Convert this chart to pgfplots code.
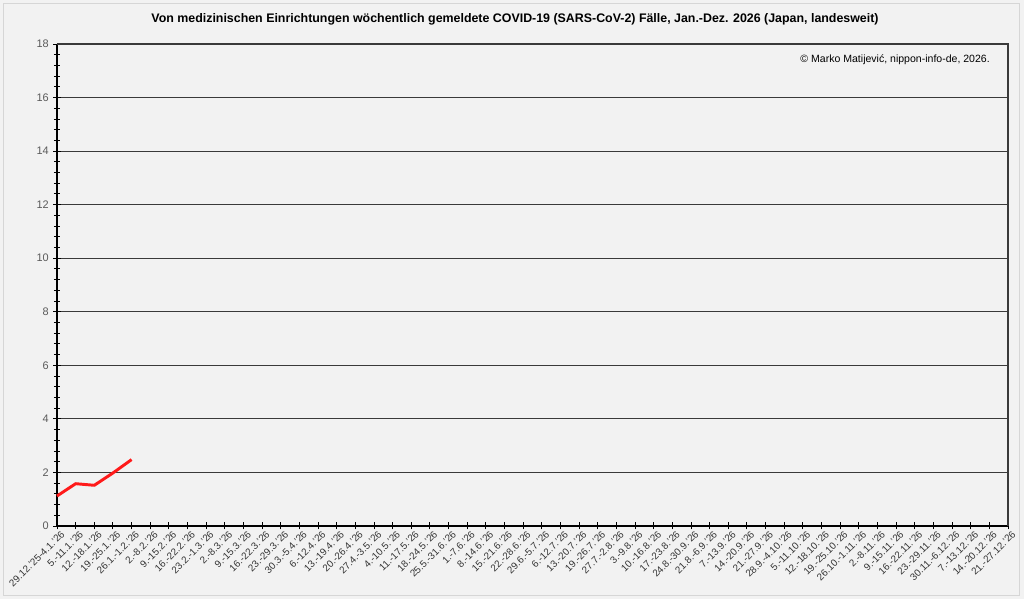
\documentclass[border=0pt]{standalone}
\usepackage{pgfplots}
\pgfplotsset{compat=1.18}
\usepackage{fontspec}
\setmainfont{Liberation Sans}

\definecolor{pagebg}{HTML}{F2F2F2}
\definecolor{framegray}{HTML}{D6D6D6}
\definecolor{gridgray}{HTML}{3A3A3A}
\definecolor{ticktext}{HTML}{5A5A5A}
\definecolor{covidred}{HTML}{FF1A1A}

% 1 px of the reference = 0.75pt
\newcommand{\px}[1]{#1*0.75pt}

\begin{document}
\begin{tikzpicture}
\path[use as bounding box, fill=pagebg] (0,0) rectangle (\px{1024},\px{599});
\draw[framegray, line width=0.6pt] (\px{3},\px{4}) rectangle (\px{1019},\px{596});

\node[font=\bfseries\fontsize{9.3}{11}\selectfont] at (\px{515},\px{580}) {Von medizinischen Einrichtungen wöchentlich gemeldete COVID-19 (SARS-CoV-2) Fälle, Jan.-Dez. 2026 (Japan, landesweit)};

\begin{axis}[
    at={(\px{57},\px{73})}, anchor=south west,
    scale only axis,
    width=\px{951}, height=\px{482},
    xmin=0, xmax=51,
    ymin=0, ymax=18,
    ytick={0,2,...,18},
    minor y tick num=4,
    xtick={0,...,51},
    xticklabels={29.12.'25-4.1.'26, 5.-11.1.'26, 12.-18.1.'26, 19.-25.1.'26, 26.1.-1.2.'26, 2.-8.2.'26, 9.-15.2.'26, 16.-22.2.'26, 23.2.-1.3.'26, 2.-8.3.'26, 9.-15.3.'26, 16.-22.3.'26, 23.-29.3.'26, 30.3.-5.4.'26, 6.-12.4.'26, 13.-19.4.'26, 20.-26.4.'26, 27.4.-3.5.'26, 4.-10.5.'26, 11.-17.5.'26, 18.-24.5.'26, 25.5.-31.6.'26, 1.-7.6.'26, 8.-14.6.'26, 15.-21.6.'26, 22.-28.6.'26, 29.6.-5.7.'26, 6.-12.7.'26, 13.-20.7.'26, 19.-26.7.'26, 27.7.-2.8.'26, 3.-9.8.'26, 10.-16.8.'26, 17.-23.8.'26, 24.8.-30.9.'26, 21.8.-6.9.'26, 7.-13.9.'26, 14.-20.9.'26, 21.-27.9.'26, 28.9.-4.10.'26, 5.-11.10.'26, 12.-18.10.'26, 19.-25.10.'26, 26.10.-1.11.'26, 2.-8.11.'26, 9.-15.11.'26, 16.-22.11.'26, 23.-29.11.'26, 30.11.-6.12.'26, 7.-13.12.'26, 14.-20.12.'26, 21.-27.12.'26},
    x tick label style={font=\fontsize{7.4}{8}\selectfont, text=black!80, rotate=45, anchor=north east, inner sep=1pt, xshift=2.5pt, yshift=-1pt},
    y tick label style={font=\fontsize{8.2}{9}\selectfont, text=ticktext},
    /pgf/number format/assume math mode=true,
    axis x line*=bottom, axis y line*=left,
    axis line style={black, line width=1pt},
    tick align=center,
    major tick length=\px{7},
    minor tick length=\px{6},
    every tick/.style={black, line width=0.7pt},
    ymajorgrids,
    major grid style={gridgray, line width=0.7pt},
    axis background/.style={fill=pagebg},
    clip=false,
]
\addplot[covidred, line width=2.2pt, line join=round] coordinates {
(0,1.12) (1,1.58) (2,1.52) (3,1.98) (4,2.48)
};
\draw[gridgray, line width=0.8pt] (axis cs:0,18) -- (axis cs:51,18) -- (axis cs:51,0);
\end{axis}

\node[anchor=east, inner sep=0pt, font=\fontsize{7.9}{9}\selectfont] at (\px{990},\px{539}) {© Marko Matijević, nippon-info-de, 2026.};
\end{tikzpicture}
\end{document}
